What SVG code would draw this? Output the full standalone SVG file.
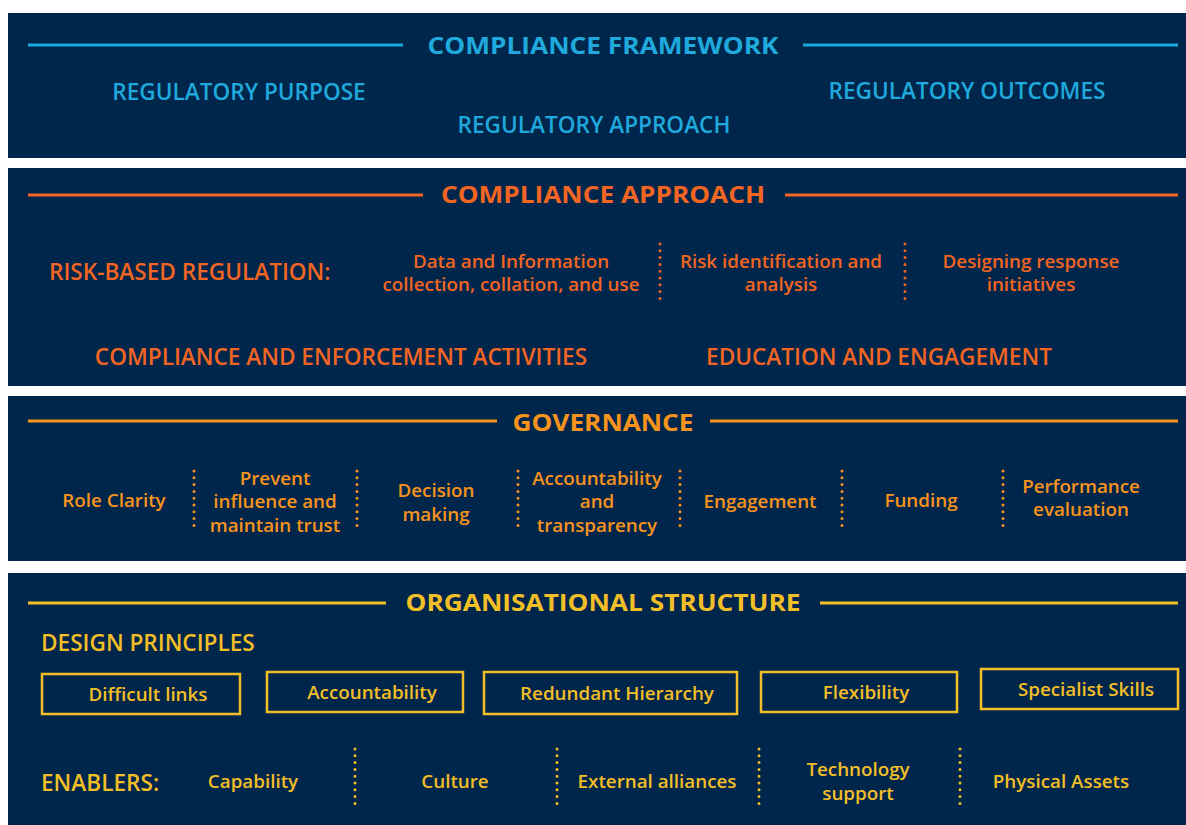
<svg xmlns="http://www.w3.org/2000/svg" width="1186" height="825" viewBox="0 0 1186 825">
<style>
text{font-family:"Open Sans","Noto Sans","Liberation Sans",sans-serif;text-anchor:middle;font-weight:600}
.panel{fill:#01264b}
.t{font-weight:700;font-size:24px}
.h{font-size:22.6px}
.s{font-size:18.8px}
.cy{fill:#1fa9dc}.cys{stroke:#1fa9dc}
.or{fill:#f26522}.ors{stroke:#f26522}
.am{fill:#f7941d}.ams{stroke:#f7941d}
.go{fill:#f3bf27}.gos{stroke:#f3bf27}
.rule{stroke-width:3;fill:none}
.dot{stroke-width:3;stroke-linecap:round;stroke-dasharray:0 6.8;fill:none}
.box{fill:none;stroke:#f3bf27;stroke-width:2.5}
.l{text-anchor:start}
</style>
<rect width="1186" height="825" fill="#ffffff"/>
<g id="framework">
<rect class="panel" x="8" y="13" width="1178" height="145"/>
<line class="rule cys" x1="28" y1="45" x2="403" y2="45"/>
<line class="rule cys" x1="803" y1="45" x2="1178" y2="45"/>
<text class="t cy" x="603" y="54" textLength="351" lengthAdjust="spacingAndGlyphs">COMPLIANCE FRAMEWORK</text>
<text class="h cy" x="239" y="100">REGULATORY PURPOSE</text>
<text class="h cy" x="594" y="133">REGULATORY APPROACH</text>
<text class="h cy" x="967" y="99">REGULATORY OUTCOMES</text>
</g>
<g id="approach">
<rect class="panel" x="8" y="168" width="1178" height="218"/>
<line class="rule ors" x1="28" y1="195" x2="423" y2="195"/>
<line class="rule ors" x1="785" y1="195" x2="1178" y2="195"/>
<text class="t or" x="603" y="203" textLength="324" lengthAdjust="spacingAndGlyphs">COMPLIANCE APPROACH</text>
<text class="h or l" x="49" y="280">RISK-BASED REGULATION:</text>
<text class="s or" x="511" y="268">Data and Information</text>
<text class="s or" x="511" y="291">collection, collation, and use</text>
<text class="s or" x="781" y="268">Risk identification and</text>
<text class="s or" x="781" y="291">analysis</text>
<text class="s or" x="1031" y="268">Designing response</text>
<text class="s or" x="1031" y="291">initiatives</text>
<text class="h or" x="341" y="365">COMPLIANCE AND ENFORCEMENT ACTIVITIES</text>
<text class="h or" x="879" y="365">EDUCATION AND ENGAGEMENT</text>
</g>
<g id="governance">
<rect class="panel" x="8" y="396" width="1178" height="165"/>
<line class="rule ams" x1="28" y1="421" x2="497" y2="421"/>
<line class="rule ams" x1="710" y1="421" x2="1178" y2="421"/>
<text class="t am" x="603" y="431" textLength="181" lengthAdjust="spacingAndGlyphs">GOVERNANCE</text>
<text class="s am" x="114" y="507">Role Clarity</text>
<text class="s am" x="275" y="485">Prevent</text>
<text class="s am" x="275" y="508">influence and</text>
<text class="s am" x="275" y="532">maintain trust</text>
<text class="s am" x="436" y="497">Decision</text>
<text class="s am" x="436" y="521">making</text>
<text class="s am" x="597" y="485">Accountability</text>
<text class="s am" x="597" y="508">and</text>
<text class="s am" x="597" y="532">transparency</text>
<text class="s am" x="760" y="508">Engagement</text>
<text class="s am" x="921" y="507">Funding</text>
<text class="s am" x="1081" y="493">Performance</text>
<text class="s am" x="1081" y="516">evaluation</text>
</g>
<g id="structure">
<rect class="panel" x="8" y="573" width="1178" height="252"/>
<line class="rule gos" x1="28" y1="603" x2="386" y2="603"/>
<line class="rule gos" x1="820" y1="603" x2="1178" y2="603"/>
<text class="t go" x="603" y="611" textLength="395" lengthAdjust="spacingAndGlyphs">ORGANISATIONAL STRUCTURE</text>
<text class="h go l" x="41" y="651">DESIGN PRINCIPLES</text>
<g id="p-difficult"><rect class="box" x="42" y="674" width="198" height="40"/><text class="s go" x="148" y="701">Difficult links</text></g>
<g id="p-account"><rect class="box" x="267" y="672" width="196" height="40"/><text class="s go" x="372" y="699">Accountability</text></g>
<g id="p-redundant"><rect class="box" x="484" y="672" width="253" height="42"/><text class="s go" x="617" y="700">Redundant Hierarchy</text></g>
<g id="p-flex"><rect class="box" x="761" y="672" width="196" height="40"/><text class="s go" x="866" y="699">Flexibility</text></g>
<g id="p-special"><rect class="box" x="981" y="669" width="197" height="40"/><text class="s go" x="1086" y="696">Specialist Skills</text></g>
<text class="h go l" x="41" y="791">ENABLERS:</text>
<text class="s go" x="253" y="788">Capability</text>
<text class="s go" x="455" y="788">Culture</text>
<text class="s go" x="657" y="788">External alliances</text>
<text class="s go" x="858" y="776">Technology</text>
<text class="s go" x="858" y="800">support</text>
<text class="s go" x="1061" y="788">Physical Assets</text>
</g>
<g id="connectors">
<line class="dot ors" x1="660" y1="244" x2="660" y2="303"/>
<line class="dot ors" x1="905" y1="244" x2="905" y2="303"/>
<line class="dot ams" x1="194" y1="471" x2="194" y2="532"/>
<line class="dot ams" x1="357" y1="471" x2="357" y2="532"/>
<line class="dot ams" x1="518" y1="471" x2="518" y2="532"/>
<line class="dot ams" x1="680" y1="471" x2="680" y2="532"/>
<line class="dot ams" x1="842" y1="471" x2="842" y2="532"/>
<line class="dot ams" x1="1003" y1="471" x2="1003" y2="532"/>
<line class="dot gos" x1="355" y1="749" x2="355" y2="810"/>
<line class="dot gos" x1="557" y1="749" x2="557" y2="810"/>
<line class="dot gos" x1="759" y1="749" x2="759" y2="810"/>
<line class="dot gos" x1="960" y1="749" x2="960" y2="810"/>
</g>
</svg>
